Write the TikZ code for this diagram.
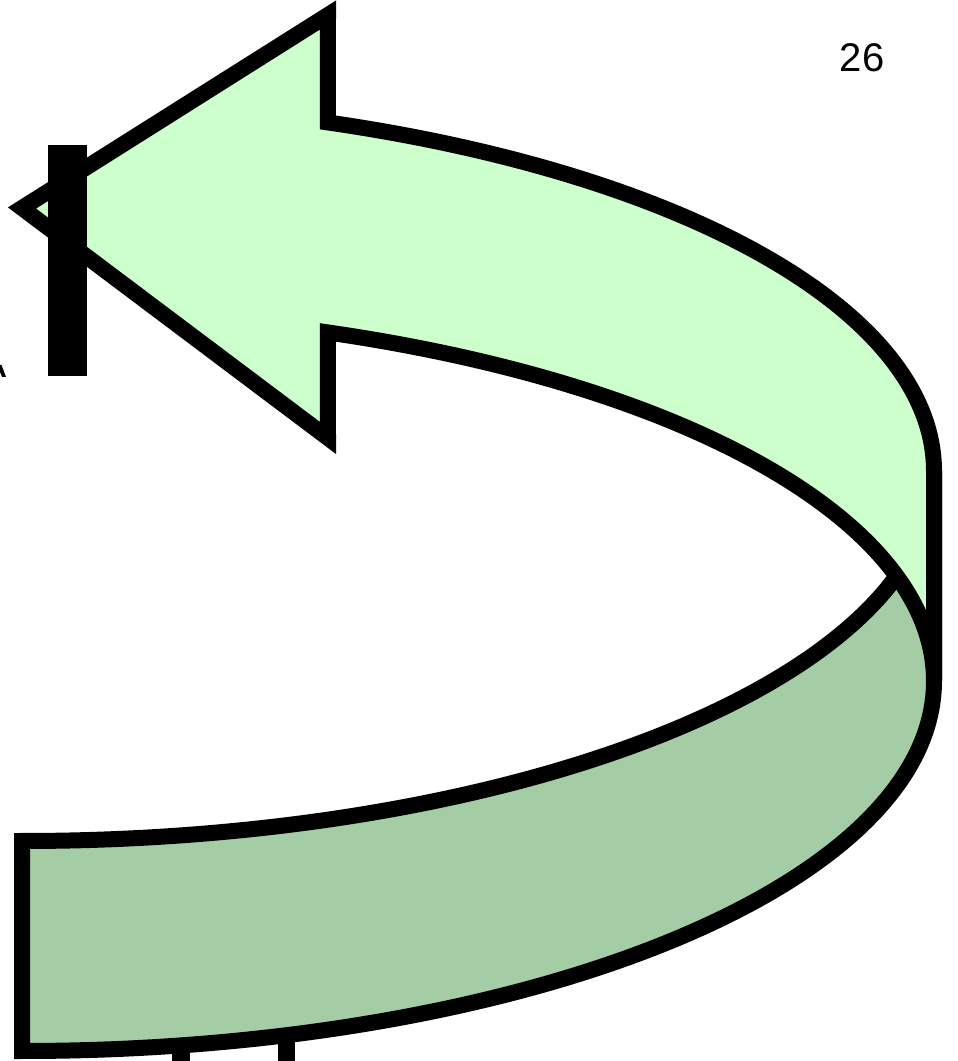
\documentclass[tikz,border=0pt]{standalone}
\usepackage{fontspec}
\setmainfont{Liberation Sans}
\definecolor{bandfront}{HTML}{CCFFCC}
\definecolor{bandback}{HTML}{A4CDA5}
\begin{document}
\begin{tikzpicture}[x=1pt, y=1pt, line join=miter, line width=16pt,
  front/.style={fill=bandfront, draw=black},
  back/.style={fill=bandback, draw=black}]
\useasboundingbox (0,0) rectangle (958,1061);
\path
(22,590) coordinate (Cu)
(22,380) coordinate (Cl)
(22,853) coordinate (tip)
(328,1046) coordinate (headtop)
(328,623) coordinate (headbot)
;
% pieces of big letters, behind the arrow
\fill (172,0) rectangle (190,25);
\fill (278,0) rectangle (295,25);
\fill (0,696) -- (1.5,696) -- (6,684) -- (2,684) -- (0,689) -- cycle;
% back band
\draw[back] ([shift={(Cu)}]270:912 and 370) arc[start angle=270, end angle=360, x radius=912, y radius=370]
  -- ([shift={(Cl)}]0:912 and 370) arc[start angle=0, end angle=-90, x radius=912, y radius=370] -- cycle;
% front band with head
\draw[front] ([shift={(Cu)}]70.4:912 and 370) arc[start angle=70.4, end angle=0, x radius=912, y radius=370]
  -- ([shift={(Cl)}]0:912 and 370) arc[start angle=0, end angle=70.4, x radius=912, y radius=370]
  -- (headbot) -- (tip) -- (headtop) -- cycle;
% letter in front
\fill (48,685) rectangle (87,916);
\node[inner sep=0, font=\fontsize{40}{48}\selectfont] (pagenum) at (862,1003) {26};
\end{tikzpicture}
\end{document}
